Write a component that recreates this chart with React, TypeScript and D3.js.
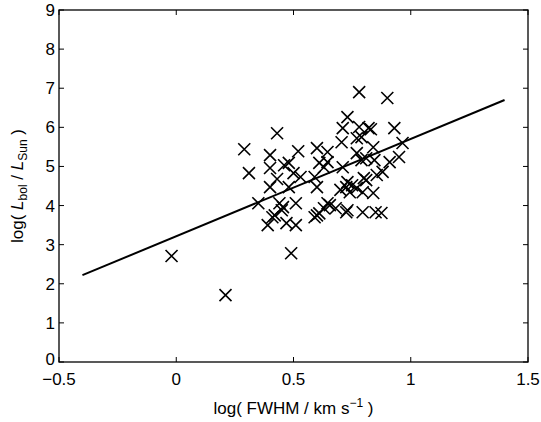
import * as d3 from "d3";

// log FWHM (km/s) and log Lbol/Lsun
const logFwhm = [
  -0.02, 0.21, 0.49, 0.29, 0.31, 0.43, 0.78, 0.9, 0.4, 0.52,
  0.4, 0.46, 0.48, 0.43, 0.5, 0.4, 0.48, 0.53, 0.44, 0.35,
  0.6, 0.645, 0.61, 0.63, 0.6, 0.71, 0.73, 0.71, 0.78, 0.82,
  0.705, 0.77, 0.79, 0.84, 0.7, 0.73, 0.77, 0.81, 0.795, 0.84,
  0.645, 0.51, 0.45, 0.42, 0.39, 0.47, 0.51, 0.6, 0.61, 0.59,
  0.68, 0.725, 0.795, 0.85, 0.875, 0.93, 0.965, 0.845, 0.91, 0.95,
  0.88, 0.8, 0.75, 0.74, 0.77, 0.645, 0.81, 0.855, 0.59, 0.725,
  0.63, 0.655, 0.41, 0.83, 0.79, 0.73, 0.455,
];
const logLbol = [
  2.71, 1.71, 2.78, 5.44, 4.83, 5.85, 6.9, 6.75, 5.29, 5.39,
  4.96, 5.03, 5.09, 4.68, 4.83, 4.47, 4.47, 4.73, 4.06, 4.06,
  5.47, 5.37, 5.09, 4.98, 4.47, 4.98, 6.26, 5.98, 6.01, 5.98,
  5.62, 5.72, 5.16, 5.49, 4.4, 4.6, 4.45, 4.65, 4.34, 4.32,
  4.06, 4.06, 3.88, 3.75, 3.5, 3.55, 3.5, 3.75, 3.8, 3.7,
  3.93, 3.83, 3.83, 3.83, 3.81, 5.98, 5.6, 5.16, 5.11, 5.24,
  4.86, 4.7, 4.52, 4.34, 5.34, 5.11, 5.21, 4.78, 4.73, 4.47,
  3.93, 4.01, 3.7, 5.95, 5.75, 3.88, 3.96,
];

// linear fit endpoints
const fitX = [-0.4, 1.4];
const fitY = [2.22, 6.7];

const xTicks = [-0.5, 0, 0.5, 1, 1.5];
const yTicks = [0, 1, 2, 3, 4, 5, 6, 7, 8, 9];

const W = 541;
const H = 422;
const margin = { top: 10, right: 13, bottom: 60, left: 59 };
const font = "'Liberation Sans', Arial, Helvetica, sans-serif";

export default function App() {
  const x = d3.scaleLinear().domain([-0.5, 1.5]).range([margin.left, W - margin.right]);
  const y = d3.scaleLinear().domain([0, 9]).range([H - margin.bottom, margin.top]);
  const x0 = x.range()[0], x1 = x.range()[1];
  const y0 = y.range()[0], y1 = y.range()[1];
  const tick = 5;
  const m = 6; // half size of the cross markers

  const fitLine = d3
    .line<number>()
    .x((d) => x(d))
    .y((_, i) => y(fitY[i]));

  const fmt = (v: number) => (v < 0 ? "\u2212" + Math.abs(v) : String(v));

  return (
    <svg
      width={W}
      height={H}
      style={{ position: "absolute", left: 0, top: 0, background: "#fff" }}
      fontFamily={font}
    >
      <path d={fitLine(fitX) ?? ""} stroke="#000" strokeWidth={2} fill="none" />

      <g stroke="#000" strokeWidth={1.6}>
        {logFwhm.map((fx, i) => {
          const cx = x(fx);
          const cy = y(logLbol[i]);
          return (
            <path
              key={i}
              d={`M${cx - m},${cy - m}L${cx + m},${cy + m}M${cx - m},${cy + m}L${cx + m},${cy - m}`}
            />
          );
        })}
      </g>

      {/* axes box */}
      <rect x={x0} y={y1} width={x1 - x0} height={y0 - y1} fill="none" stroke="#000" strokeWidth={1.3} />

      <g stroke="#000" strokeWidth={1}>
        {xTicks.map((t) => (
          <g key={"x" + t}>
            <line x1={x(t)} x2={x(t)} y1={y0} y2={y0 - tick} />
            <line x1={x(t)} x2={x(t)} y1={y1} y2={y1 + tick} />
          </g>
        ))}
        {yTicks.map((t) => (
          <g key={"y" + t}>
            <line x1={x0} x2={x0 + tick} y1={y(t)} y2={y(t)} />
            <line x1={x1} x2={x1 - tick} y1={y(t)} y2={y(t)} />
          </g>
        ))}
      </g>

      <g fontSize={17} fill="#000">
        {xTicks.map((t) => (
          <text key={"xl" + t} x={x(t)} y={y0 + 23} textAnchor="middle">
            {fmt(t)}
          </text>
        ))}
        {yTicks.map((t) => (
          <text key={"yl" + t} x={x0 - 4} y={y(t) - (t === 0 ? 3 : 0)} dy="0.35em" textAnchor="end">
            {t}
          </text>
        ))}
      </g>

      <text x={(x0 + x1) / 2} y={H - 8} textAnchor="middle" fontSize={17}>
        log( FWHM / km s
        <tspan dy={-7} fontSize={12}>
          {"\u22121"}
        </tspan>
        <tspan dy={7}> )</tspan>
      </text>

      <text
        transform={`translate(23,${(y0 + y1) / 2}) rotate(-90)`}
        textAnchor="middle"
        fontSize={17}
      >
        log(
        <tspan fontStyle="italic"> L</tspan>
        <tspan dy={4} fontSize={12}>
          bol
        </tspan>
        <tspan dy={-4}> / </tspan>
        <tspan fontStyle="italic">L</tspan>
        <tspan dy={4} fontSize={12}>
          Sun
        </tspan>
        <tspan dy={-4}> )</tspan>
      </text>
    </svg>
  );
}
